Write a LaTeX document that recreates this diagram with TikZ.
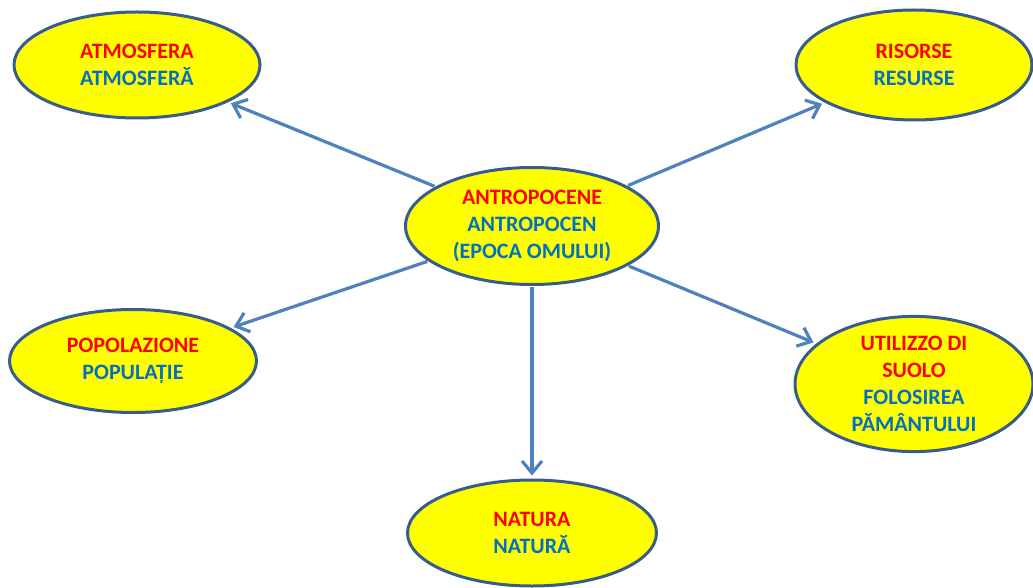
\documentclass[tikz,border=0pt]{standalone}
\usepackage{fontspec}
\setmainfont{Carlito}
\usetikzlibrary{shapes.geometric,arrows.meta}
\definecolor{ellfill}{HTML}{FFFF00}
\definecolor{elldraw}{HTML}{385D8A}
\definecolor{arrblue}{HTML}{4F81BD}
\definecolor{txtred}{HTML}{FF0000}
\definecolor{txtblue}{HTML}{0070C0}
\newcommand{\itl}[1]{\textcolor{txtred}{#1}}
\newcommand{\rom}[1]{\textcolor{txtblue}{#1}}
\begin{document}
\begin{tikzpicture}[x=1pt,y=-1pt]

      \useasboundingbox (0,0) rectangle (1033,588);

      \begin{scope}[every node/.style={ellipse,draw=elldraw,fill=ellfill,line width=3pt,
          inner sep=0pt,align=center,font=\fontsize{22}{27}\selectfont\bfseries}]
        \node[minimum width=253pt,minimum height=117pt] (1) at (532,226)
          {\itl{ANTROPOCENE}\\\rom{ANTROPOCEN}\\\rom{(EPOCA OMULUI)}};
        \node[minimum width=246pt,minimum height=106pt] (2) at (137,65)
          {\itl{ATMOSFERA}\\\rom{ATMOSFERĂ}};
        \node[minimum width=236pt,minimum height=110pt] (3) at (914,65)
          {\itl{RISORSE}\\\rom{RESURSE}};
        \node[minimum width=247pt,minimum height=103pt] (4) at (133,361)
          {\itl{POPOLAZIONE}\\\rom{POPULAȚIE}};
        \node[minimum width=238pt,minimum height=128pt] (5) at (914,384)
          {\itl{UTILIZZO DI}\\\itl{SUOLO}\\\rom{FOLOSIREA}\\\rom{PĂMÂNTULUI}};
        \node[minimum width=249pt,minimum height=106pt] (6) at (532,533)
          {\itl{NATURA}\\\rom{NATURĂ}};
      \end{scope}

      \begin{scope}[every edge/.style={draw=arrblue,line width=3.2pt,
          -{Straight Barb[length=12pt,width=20pt]},shorten <=1pt,shorten >=3pt}]
        \path (1) edge (2);
        \path (1) edge (3);
        \path (1) edge (4);
        \path (1) edge (5);
        \path (1) edge (6);
      \end{scope}

    \end{tikzpicture}
\end{document}
